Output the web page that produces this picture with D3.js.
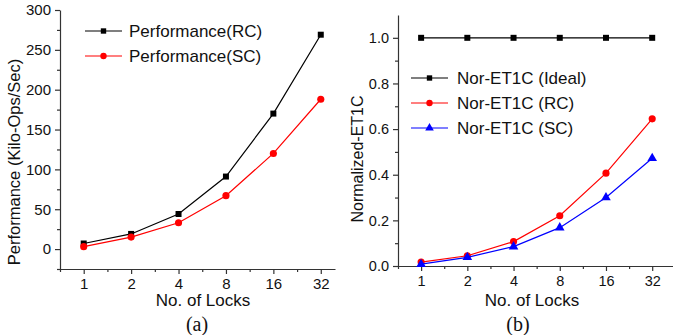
<!DOCTYPE html>
<html>
<head>
<meta charset="utf-8">
<script src="https://cdn.jsdelivr.net/npm/d3@7"></script>
<style>
  body { margin: 0; background: #fff; }
  text { font-family: "Liberation Sans", Arial, sans-serif; fill: #111; }
</style>
</head>
<body>
<script>
// data
const locks = ["1", "2", "4", "8", "16", "32"];
const perfRC = [7, 19, 44, 91, 170, 269];
const perfSC = [3, 15, 33, 67, 120, 188];
const norIdeal = [1, 1, 1, 1, 1, 1];
const norRC = [0.017, 0.045, 0.107, 0.22, 0.407, 0.645];
const norSC = [0.008, 0.038, 0.085, 0.168, 0.30, 0.472];

const W = 673, H = 335;
const svg = d3.select("body").append("svg").attr("width", W).attr("height", H);

function panel(opt) {
  const g = svg.append("g");
  const x = d3.scaleLinear().domain(opt.xDomain).range(opt.xRange);
  const y = d3.scaleLinear().domain(opt.yDomain).range(opt.yRange);

  // x axis: major ticks at categories, minor between
  const xMajor = locks.map((d, i) => i);
  const xMinor = d3.range(-0.5, 5.6, 1).filter(v => v <= opt.xDomain[1]);
  const xa = g.append("g").attr("transform", `translate(0,${opt.yRange[0]})`);
  xa.call(d3.axisBottom(x).tickValues(xMajor).tickSize(5).tickSizeOuter(0)
    .tickFormat(i => locks[i]));
  xa.append("g").call(d3.axisBottom(x).tickValues(xMinor).tickSize(3).tickFormat(""))
    .select(".domain").remove();
  xa.selectAll("text").attr("font-size", opt.tickFont).attr("dy", "0.8em")
    .style("font-family", "Liberation Sans, Arial, sans-serif").attr("fill", "#111");

  // y axis
  const ya = g.append("g").attr("transform", `translate(${opt.xRange[0]},0)`);
  ya.call(d3.axisLeft(y).tickValues(opt.yTicks).tickSize(5).tickSizeOuter(0)
    .tickFormat(opt.yFmt));
  ya.append("g").call(d3.axisLeft(y).tickValues(opt.yMinor).tickSize(3).tickFormat(""))
    .select(".domain").remove();
  ya.selectAll("text").attr("font-size", opt.tickFont).attr("dx", "-1px")
    .style("font-family", "Liberation Sans, Arial, sans-serif").attr("fill", "#111");
  g.selectAll(".domain, .tick line").attr("stroke", "#333").attr("stroke-width", 1.2);

  const line = d3.line().x((d, i) => x(i)).y(d => y(d));
  opt.series.forEach(s => {
    g.append("path").datum(s.values).attr("d", line)
      .attr("fill", "none").attr("stroke", s.color).attr("stroke-width", 1.2);
    g.append("g").selectAll("path").data(s.values).join("path")
      .attr("transform", (d, i) => `translate(${x(i)},${y(d)})`)
      .attr("d", d3.symbol().type(s.sym).size(s.size))
      .attr("fill", s.color);
  });

  // legend
  opt.series.forEach((s, k) => {
    const ly = opt.legend.y + k * opt.legend.dy;
    const lx = opt.legend.x;
    g.append("line").attr("x1", lx).attr("x2", lx + 37).attr("y1", ly).attr("y2", ly)
      .attr("stroke", s.color).attr("stroke-width", 1.2);
    g.append("path").attr("transform", `translate(${lx + 18.5},${ly})`)
      .attr("d", d3.symbol().type(s.sym).size(s.size * 0.8)).attr("fill", s.color);
    g.append("text").attr("x", lx + opt.legend.tx).attr("y", ly).attr("dy", "0.35em")
      .attr("font-size", 17).text(s.name);
  });

  // titles
  g.append("text").attr("x", opt.xTitle[0]).attr("y", opt.xTitle[1])
    .attr("text-anchor", "middle").attr("font-size", 17).text("No. of Locks");
  g.append("text").attr("transform", `translate(${opt.yTitle[0]},${opt.yTitle[1]}) rotate(-90)`)
    .attr("text-anchor", "middle").attr("font-size", opt.yTitleFont).text(opt.yLabel);
  g.append("text").attr("x", opt.cap[0]).attr("y", opt.cap[1])
    .attr("text-anchor", "middle").attr("font-size", 20)
    .style("font-family", "Liberation Serif, Times New Roman, serif").text(opt.capText);
}

panel({
  xDomain: [-0.5, 5.3], xRange: [60, 335],
  yDomain: [-25, 300], yRange: [269, 10],
  yTicks: [0, 50, 100, 150, 200, 250, 300],
  yMinor: d3.range(-25, 300, 50),
  yFmt: d3.format("d"),
  tickFont: 15,
  series: [
    {name: "Performance(RC)", values: perfRC, color: "#000", sym: d3.symbolSquare, size: 36},
    {name: "Performance(SC)", values: perfSC, color: "#f00", sym: d3.symbolCircle, size: 40}
  ],
  legend: {x: 85, y: 31, dy: 25, tx: 44},
  xTitle: [203, 306], yTitle: [20, 162], yLabel: "Performance (Kilo-Ops/Sec)", yTitleFont: 16.5,
  cap: [197, 331], capText: "(a)"
});

panel({
  xDomain: [-0.5, 5.45], xRange: [398, 673],
  yDomain: [0, 1.1], yRange: [266, 15],
  yTicks: [0, 0.2, 0.4, 0.6, 0.8, 1.0],
  yMinor: d3.range(0.1, 1.1, 0.2),
  yFmt: d3.format(".1f"),
  tickFont: 14.5,
  series: [
    {name: "Nor-ET1C (Ideal)", values: norIdeal, color: "#000", sym: d3.symbolSquare, size: 36},
    {name: "Nor-ET1C (RC)", values: norRC, color: "#f00", sym: d3.symbolCircle, size: 40},
    {name: "Nor-ET1C (SC)", values: norSC, color: "#00f", sym: d3.symbolTriangle, size: 40}
  ],
  legend: {x: 411, y: 78, dy: 25, tx: 46},
  xTitle: [532, 306], yTitle: [363, 159], yLabel: "Normalized-ET1C", yTitleFont: 16,
  cap: [518, 331], capText: "(b)"
});
</script>
</body>
</html>
